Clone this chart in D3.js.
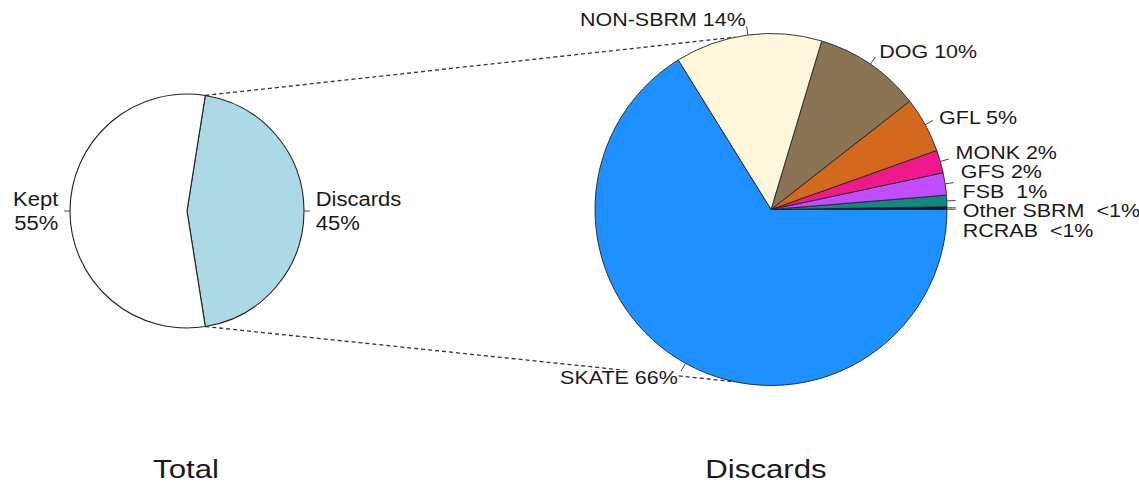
<!DOCTYPE html>
<html lang="en">
<head>
<meta charset="UTF-8">
<title>Total and discards pies</title>
<script src="https://d3js.org/d3.v7.min.js"></script>
<style>
    body { margin: 0; background: #fff; }
    text { font-family: "Liberation Sans", Arial, sans-serif; fill: #1a1a1a; white-space: pre; }
</style>
</head>
<body>
<svg id="chart" width="1139" height="489"></svg>
<script>

// data
const totalCats = ['Kept', 'Discards'];
const totalValues = [55, 45];
const totalPct = ['55%', '45%'];
const totalColors = ['#ffffff', '#add8e6'];

// counter-clockwise from 3 o'clock, like R's pie()
const discardCats = ['RCRAB', 'Other SBRM', 'FSB', 'GFS', 'MONK', 'GFL', 'DOG', 'NON-SBRM', 'SKATE'];
const discardValues = [0.05, 0.2, 1.05, 2.05, 2.1, 5.1, 9.8, 13.5, 66.15];
const discardLabels = ['RCRAB  <1%', 'Other SBRM  <1%', 'FSB  1%', 'GFS 2%', 'MONK 2%', 'GFL 5%', 'DOG 10%', 'NON-SBRM 14%', 'SKATE 66%'];
const discardColors = ['#000060', '#0a0a0a', '#0e8a80', '#c04dff', '#f0198c', '#d2691e', '#8b7355', '#fff8dc', '#1e90ff'];

const titles = ['Total', 'Discards'];

const svg = d3.select('#chart');
const stretch = 1.13;   // the original glyphs are a bit wider than Arial

const left = { cx: 187, cy: 211, r: 117 };
const right = { cx: 771, cy: 209.5, r: 176 };

const polar = (p, a, k) => [p.cx + k * p.r * Math.sin(a), p.cy - k * p.r * Math.cos(a)];

// left pie: Discards centred on 3 o'clock
const share = totalValues[1] / d3.sum(totalValues);
const leftPie = d3.pie().sort(null).value(i => totalValues[i])
    .startAngle(Math.PI / 2 - Math.PI * share)
    .endAngle(Math.PI / 2 - Math.PI * share + 2 * Math.PI);
const leftArcs = leftPie([1, 0]);

const rightPie = d3.pie().sort(null).value(d => d)
    .startAngle(Math.PI / 2).endAngle(Math.PI / 2 - 2 * Math.PI);
const rightArcs = rightPie(discardValues);

// dashed connectors, drawn first so the labels can sit on top
const dArc = leftArcs[0];
const joinOff = 0.206;
const conn = [
    [polar(left, dArc.startAngle, 1), polar(right, -joinOff, 1)],
    [polar(left, dArc.endAngle, 1), polar(right, Math.PI + joinOff, 1)]
];
svg.append('g').selectAll('line').data(conn).enter().append('line')
    .attr('x1', d => d[0][0]).attr('y1', d => d[0][1])
    .attr('x2', d => d[1][0]).attr('y2', d => d[1][1])
    .style('stroke', '#333').style('stroke-width', 1.3).style('stroke-dasharray', '4,3');

// left pie
const gl = svg.append('g').attr('transform', `translate(${left.cx},${left.cy})`);
gl.selectAll('path').data(leftArcs).enter().append('path')
    .attr('d', d3.arc().innerRadius(0).outerRadius(left.r))
    .style('fill', d => totalColors[d.data])
    .style('stroke', '#222').style('stroke-width', 1.1);

// right pie
const gr = svg.append('g').attr('transform', `translate(${right.cx},${right.cy})`);
gr.selectAll('path').data(rightArcs).enter().append('path')
    .attr('d', d3.arc().innerRadius(0).outerRadius(right.r))
    .style('fill', (d, i) => discardColors[i])
    .style('stroke', '#222').style('stroke-width', 0.9);

// ticks
function ticks(p, arcs) {
    svg.append('g').selectAll('line').data(arcs).enter().append('line')
        .each(function (d) {
            const m = (d.startAngle + d.endAngle) / 2;
            const a = polar(p, m, 1), b = polar(p, m, 1.05);
            d3.select(this).attr('x1', a[0]).attr('y1', a[1]).attr('x2', b[0]).attr('y2', b[1]);
        })
        .style('stroke', '#444').style('stroke-width', 1);
}
ticks(left, leftArcs);
ticks(right, rightArcs);

// left labels (two lines)
leftArcs.forEach(d => {
    const m = (d.startAngle + d.endAngle) / 2;
    const [x, y] = polar(left, m, 1.1);
    const t = svg.append('text')
        .attr('transform', `translate(${x},${y}) scale(${stretch},1)`)
        .attr('text-anchor', Math.sin(m) < 0 ? 'end' : 'start')
        .style('font-size', '19.5px');
    t.append('tspan').attr('x', 0).attr('dy', '-0.25em').text(totalCats[d.data]);
    t.append('tspan').attr('x', 0).attr('dy', '1.2em').text(totalPct[d.data]);
});

// right labels, with overlapping ones on the right side spread apart
const lab = rightArcs.map((d, i) => {
    const m = (d.startAngle + d.endAngle) / 2;
    const [x, y] = polar(right, m, 1.09);
    return { i, x, y0: y, y, side: Math.sin(m) < 0 ? -1 : 1 };
});
function spread(items, gap) {
    items.sort((a, b) => a.y0 - b.y0);
    let cl = items.map(d => [d]);
    let merged = true;
    const place = c => {
        const mid = d3.mean(c, d => d.y0);
        c.forEach((d, k) => d.y = mid + (k - (c.length - 1) / 2) * gap);
    };
    while (merged) {
        merged = false;
        cl.forEach(place);
        for (let k = 0; k < cl.length - 1; k++) {
            const a = cl[k][cl[k].length - 1], b = cl[k + 1][0];
            if (b.y - a.y < gap) {
                cl[k] = cl[k].concat(cl[k + 1]);
                cl.splice(k + 1, 1);
                merged = true;
                break;
            }
        }
    }
}
spread(lab.filter(d => d.side > 0), 19.5);

const gt = svg.append('g');
lab.forEach(d => {
    const g = gt.append('g').attr('transform', `translate(${d.x},${d.y}) scale(${stretch},1)`);
    const t = g.append('text')
        .attr('text-anchor', d.side < 0 ? 'end' : 'start')
        .attr('dy', '0.35em')
        .style('font-size', '19px')
        .text(discardLabels[d.i]);
    const bb = t.node().getBBox();
    g.insert('rect', 'text')
        .attr('x', bb.x).attr('y', bb.y + 3).attr('width', bb.width).attr('height', bb.height - 4)
        .style('fill', '#fff');
});

// titles under each pie
svg.selectAll('text.title').data(titles).enter().append('text')
    .attr('class', 'title')
    .attr('transform', (d, i) => `translate(${i ? right.cx - 5 : left.cx - 1},478) scale(1.2,1)`)
    .attr('text-anchor', 'middle')
    .style('font-size', '26px')
    .text(d => d);

</script>
</body>
</html>
